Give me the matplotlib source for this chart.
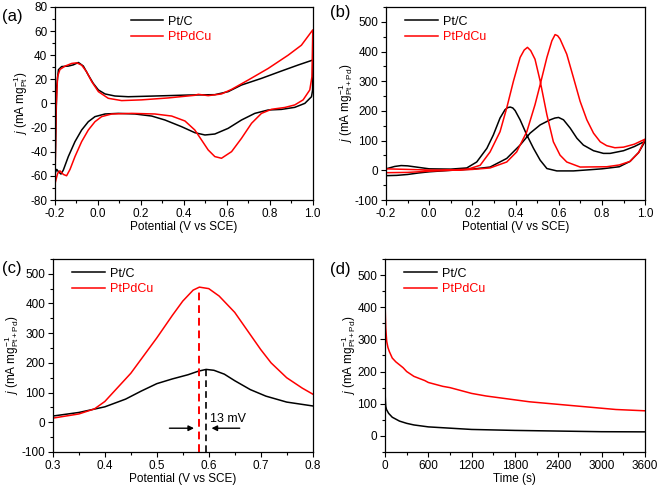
import matplotlib
matplotlib.use("Agg")
from matplotlib import pyplot as plt
from matplotlib.ticker import MultipleLocator, FormatStrFormatter

plt.rcParams['font.family'] = ['Liberation Sans', 'DejaVu Sans']
plt.rcParams['mathtext.fontset'] = 'custom'
plt.rcParams['mathtext.rm'] = 'Liberation Sans'
plt.rcParams['mathtext.it'] = 'Liberation Sans:italic'
plt.rcParams['axes.unicode_minus'] = False

# (a) CV in H2SO4 (forward + reverse scan)
a_ptc_fx = [-0.2, -0.192, -0.184, -0.169, -0.138, -0.115, -0.091, -0.068, -0.045, -0.022, 0.002, 0.033,
            0.079, 0.141, 0.265, 0.42, 0.544, 0.606, 0.668, 0.761, 0.854, 0.932, 1.0]
a_ptc_fy = [-58, 14, 28, 30.6, 31, 32, 34, 31, 23.6, 16.7, 11.2, 7.9, 6.2, 5.6, 6.2, 7, 7.3, 9.8, 15.3,
            20.8, 26.9, 31.9, 36]
a_ptc_rx = [1.0, 0.999, 0.994, 0.963, 0.916, 0.854, 0.792, 0.73, 0.668, 0.606, 0.544, 0.498, 0.451,
            0.389, 0.312, 0.25, 0.172, 0.095, 0.033, -0.014, -0.045, -0.076, -0.107, -0.138, -0.161,
            -0.172, -0.184, -0.192, -0.2]
a_ptc_ry = [36, 11, 5.6, 0.1, -3.2, -4.9, -5.4, -8.2, -13.7, -20.6, -25.3, -26.1, -24.2, -19.2, -13.7,
            -10.4, -8.7, -8.2, -8.7, -10.9, -15.1, -22, -31.6, -44, -55.1, -58.5, -56.5, -54.6, -58]

a_pdc_fx = [-0.2, -0.195, -0.188, -0.177, -0.153, -0.122, -0.099, -0.076, -0.053, -0.029, 0.002, 0.048,
            0.11, 0.203, 0.327, 0.451, 0.467, 0.513, 0.575, 0.622, 0.699, 0.792, 0.885, 0.947, 1.0]
a_pdc_fy = [-66.5, -5, 22.2, 28.2, 31, 33.2, 33.7, 31.8, 26.3, 18.1, 9.8, 4.3, 2.4, 3, 4.6, 6.8, 7.6,
            6.5, 7.9, 11.7, 19.4, 29, 40, 48.3, 61]
a_pdc_rx = [1.0, 0.996, 0.986, 0.955, 0.916, 0.87, 0.808, 0.761, 0.715, 0.668, 0.622, 0.575, 0.544,
            0.513, 0.482, 0.451, 0.405, 0.343, 0.265, 0.157, 0.064, 0.017, -0.014, -0.045, -0.076,
            -0.107, -0.13, -0.146, -0.161, -0.177, -0.188, -0.2]
a_pdc_ry = [61, 22, 11.2, 3, -1.2, -3.3, -4.8, -8.2, -16.4, -28.9, -39.9, -45.4, -44, -38.5, -30.2,
            -22, -14.5, -10.4, -8.7, -8.2, -8.7, -10.9, -15.1, -22, -31.6, -44, -54.6, -59.9, -58.8,
            -55.8, -58, -66.5]

# (b) CV in methanol: forward and backward scans
b_ptc_fx = [-0.2, -0.15, -0.1, -0.05, 0.0, 0.1, 0.2, 0.282, 0.359, 0.421, 0.467, 0.514, 0.56, 0.582,
            0.599, 0.622, 0.653, 0.684, 0.714, 0.761, 0.807, 0.838, 0.9, 0.95, 1.0]
b_ptc_fy = [-18, -17, -14, -9, -5, 0, 4, 11, 40, 85, 125, 153, 170, 176, 178, 170, 142, 108, 85, 66,
            57, 57, 66, 80, 98]
b_ptc_bx = [1.0, 0.97, 0.93, 0.88, 0.8, 0.745, 0.668, 0.591, 0.545, 0.514, 0.483, 0.452, 0.421, 0.398,
            0.387, 0.375, 0.363, 0.351, 0.328, 0.297, 0.267, 0.22, 0.174, 0.1, 0.0, -0.05, -0.1, -0.13,
            -0.16, -0.2]
b_ptc_by = [98, 60, 30, 12, 5, 2, -2, -2, 6, 34, 74, 119, 170, 201, 210, 213, 211, 204, 176, 119, 74,
            28, 8, 4, 5, 10, 15, 16, 13, 5]

b_pdc_fx = [-0.2, -0.1, 0.0, 0.1, 0.2, 0.282, 0.359, 0.405, 0.452, 0.49, 0.514, 0.545, 0.568, 0.583,
            0.595, 0.606, 0.637, 0.668, 0.699, 0.73, 0.761, 0.792, 0.822, 0.86, 0.9, 0.95, 1.0]
b_pdc_fy = [-8, -7, -3, 0, 3, 8, 28, 62, 130, 221, 289, 380, 436, 457, 453, 442, 391, 312, 232, 170,
            125, 96, 83, 76, 78, 88, 105]
b_pdc_bx = [1.0, 0.97, 0.93, 0.88, 0.822, 0.699, 0.637, 0.606, 0.575, 0.545, 0.514, 0.49, 0.47, 0.455,
            0.44, 0.421, 0.39, 0.359, 0.328, 0.282, 0.236, 0.18, 0.1, 0.0, -0.1, -0.2]
b_pdc_by = [105, 60, 30, 18, 12, 11, 28, 51, 96, 187, 300, 374, 403, 414, 405, 380, 300, 210, 130, 62,
            17, 4, 1, 1, 3, 5]

# (c) zoom of the forward peaks
c_ptc_x = [0.3, 0.35, 0.4, 0.44, 0.47, 0.5, 0.53, 0.56, 0.58, 0.595, 0.61, 0.63, 0.65, 0.68, 0.71,
           0.75, 0.8]
c_ptc_y = [21, 33, 52, 78, 105, 130, 146, 160, 172, 178, 175, 162, 140, 110, 88, 68, 55]
c_pdc_x = [0.3, 0.35, 0.38, 0.4, 0.45, 0.5, 0.53, 0.55, 0.57, 0.582, 0.6, 0.62, 0.65, 0.68, 0.7, 0.72,
           0.75, 0.78, 0.8]
c_pdc_y = [14, 28, 45, 70, 165, 284, 360, 408, 445, 455, 450, 425, 370, 295, 245, 200, 150, 115, 95]
peak_pdc = (0.582, 455)
peak_ptc = (0.595, 178)

# (d) chronoamperometry
d_ptc_t = [0, 5, 10, 20, 50, 100, 200, 300, 400, 600, 900, 1200, 1800, 2400, 3000, 3600]
d_ptc_j = [140, 110, 92, 82, 70, 58, 46, 39, 34, 28, 24, 20, 17, 15, 13, 12.5]
d_pdc_t = [0, 5, 10, 23, 40, 60, 100, 150, 250, 300, 400, 480, 550, 600, 700, 800, 900, 1100, 1200,
           1400, 1700, 1800, 2000, 2400, 2800, 3000, 3200, 3600]
d_pdc_j = [414, 370, 335, 294, 275, 262, 242, 230, 212, 200, 185, 178, 172, 166, 160, 154, 150, 138,
           132, 124, 115, 112, 106, 98, 90, 86, 82, 78]

RED = '#ff0000'
LW = 1.1

fig = plt.figure(figsize=(6.61, 4.9), dpi=100)
axa = fig.add_axes([0.0832, 0.5918, 0.390, 0.394])
axb = fig.add_axes([0.584, 0.5918, 0.392, 0.394])
axc = fig.add_axes([0.080, 0.0776, 0.393, 0.394])
axd = fig.add_axes([0.5825, 0.0776, 0.393, 0.394])

ylab_pt = r'$j$ (mA mg$_{\mathrm{Pt}}^{-1}$)'
ylab_ptpd = r'$j$ (mA mg$_{\mathrm{Pt+Pd}}^{-1}$)'

axa.plot(a_ptc_fx + a_ptc_rx, a_ptc_fy + a_ptc_ry, color='black', lw=LW, label='Pt/C')
axa.plot(a_pdc_fx + a_pdc_rx, a_pdc_fy + a_pdc_ry, color=RED, lw=LW, label='PtPdCu')
axa.set_xlim(-0.2, 1.0)
axa.set_ylim(-80, 80)
axa.yaxis.set_major_locator(MultipleLocator(20))
axa.yaxis.set_minor_locator(MultipleLocator(10))
axa.set_ylabel(ylab_pt, fontsize=8.5, labelpad=0)

axb.plot(b_ptc_fx + b_ptc_bx, b_ptc_fy + b_ptc_by, color='black', lw=LW, label='Pt/C')
axb.plot(b_pdc_fx + b_pdc_bx, b_pdc_fy + b_pdc_by, color=RED, lw=LW, label='PtPdCu')
axb.set_xlim(-0.2, 1.0)
axb.set_ylim(-100, 550)
axb.set_ylabel(ylab_ptpd, fontsize=8.5, labelpad=0)

for ax in (axa, axb):
    ax.xaxis.set_major_locator(MultipleLocator(0.2))
    ax.xaxis.set_minor_locator(MultipleLocator(0.1))
    ax.xaxis.set_major_formatter(FormatStrFormatter('%.1f'))

axc.plot(c_ptc_x, c_ptc_y, color='black', lw=LW, label='Pt/C')
axc.plot(c_pdc_x, c_pdc_y, color=RED, lw=LW, label='PtPdCu')
axc.plot([peak_pdc[0], peak_pdc[0]], [-100, peak_pdc[1]], color=RED, lw=1.4, ls=(0, (4, 2.5)))
axc.plot([peak_ptc[0], peak_ptc[0]], [-100, peak_ptc[1]], color='black', lw=1.2, ls=(0, (4, 2.5)))
axc.annotate('', xy=(0.577, -20), xytext=(0.519, -20),
             arrowprops=dict(arrowstyle='-|>', color='black', lw=1, mutation_scale=8))
axc.annotate('', xy=(0.600, -20), xytext=(0.665, -20),
             arrowprops=dict(arrowstyle='-|>', color='black', lw=1, mutation_scale=8))
axc.text(0.603, -8, '13 mV', fontsize=9, va='bottom', ha='left')
axc.set_xlim(0.3, 0.8)
axc.set_ylim(-100, 550)
axc.xaxis.set_major_locator(MultipleLocator(0.1))
axc.xaxis.set_minor_locator(MultipleLocator(0.05))
axc.xaxis.set_major_formatter(FormatStrFormatter('%.1f'))
axc.set_ylabel(ylab_ptpd, fontsize=8.5, labelpad=0)

axd.plot(d_ptc_t, d_ptc_j, color='black', lw=LW, label='Pt/C')
axd.plot(d_pdc_t, d_pdc_j, color=RED, lw=LW, label='PtPdCu')
axd.set_xlim(0, 3600)
axd.set_ylim(-50, 550)
axd.xaxis.set_major_locator(MultipleLocator(600))
axd.xaxis.set_minor_locator(MultipleLocator(300))
axd.set_ylabel(ylab_ptpd, fontsize=8.5, labelpad=0)

for ax in (axb, axc, axd):
    ax.yaxis.set_major_locator(MultipleLocator(100))
    ax.yaxis.set_minor_locator(MultipleLocator(50))

for ax in (axa, axb, axc):
    ax.set_xlabel('Potential (V vs SCE)', fontsize=8.5, labelpad=1)
axd.set_xlabel('Time (s)', fontsize=8.5, labelpad=1)

legpos = {axa: (0.26, 1.0), axb: (0.04, 1.0), axc: (0.04, 1.0), axd: (0.04, 1.0)}
for ax in (axa, axb, axc, axd):
    ax.tick_params(which='both', direction='out', top=False, right=False, labelsize=8.5, pad=2)
    ax.tick_params(which='major', length=3.5, width=0.8)
    ax.tick_params(which='minor', length=2, width=0.8)
    for s in ax.spines.values():
        s.set_linewidth(0.9)
    leg = ax.legend(loc='upper left', bbox_to_anchor=legpos[ax], frameon=False, fontsize=9,
                    handlelength=2.6, handletextpad=0.4, labelspacing=0.3, borderaxespad=0.3)
    for txt, line in zip(leg.get_texts(), leg.get_lines()):
        txt.set_color(line.get_color())

fig.text(0.003, 1 - 16 / 490, '(a)', fontsize=12, va='center', ha='left')
fig.text(330 / 661, 1 - 12.5 / 490, '(b)', fontsize=12, va='center', ha='left')
fig.text(0.003, 1 - 268.5 / 490, '(c)', fontsize=12, va='center', ha='left')
fig.text(330 / 661, 1 - 269 / 490, '(d)', fontsize=12, va='center', ha='left')

fig.savefig('out.png', dpi=100)
